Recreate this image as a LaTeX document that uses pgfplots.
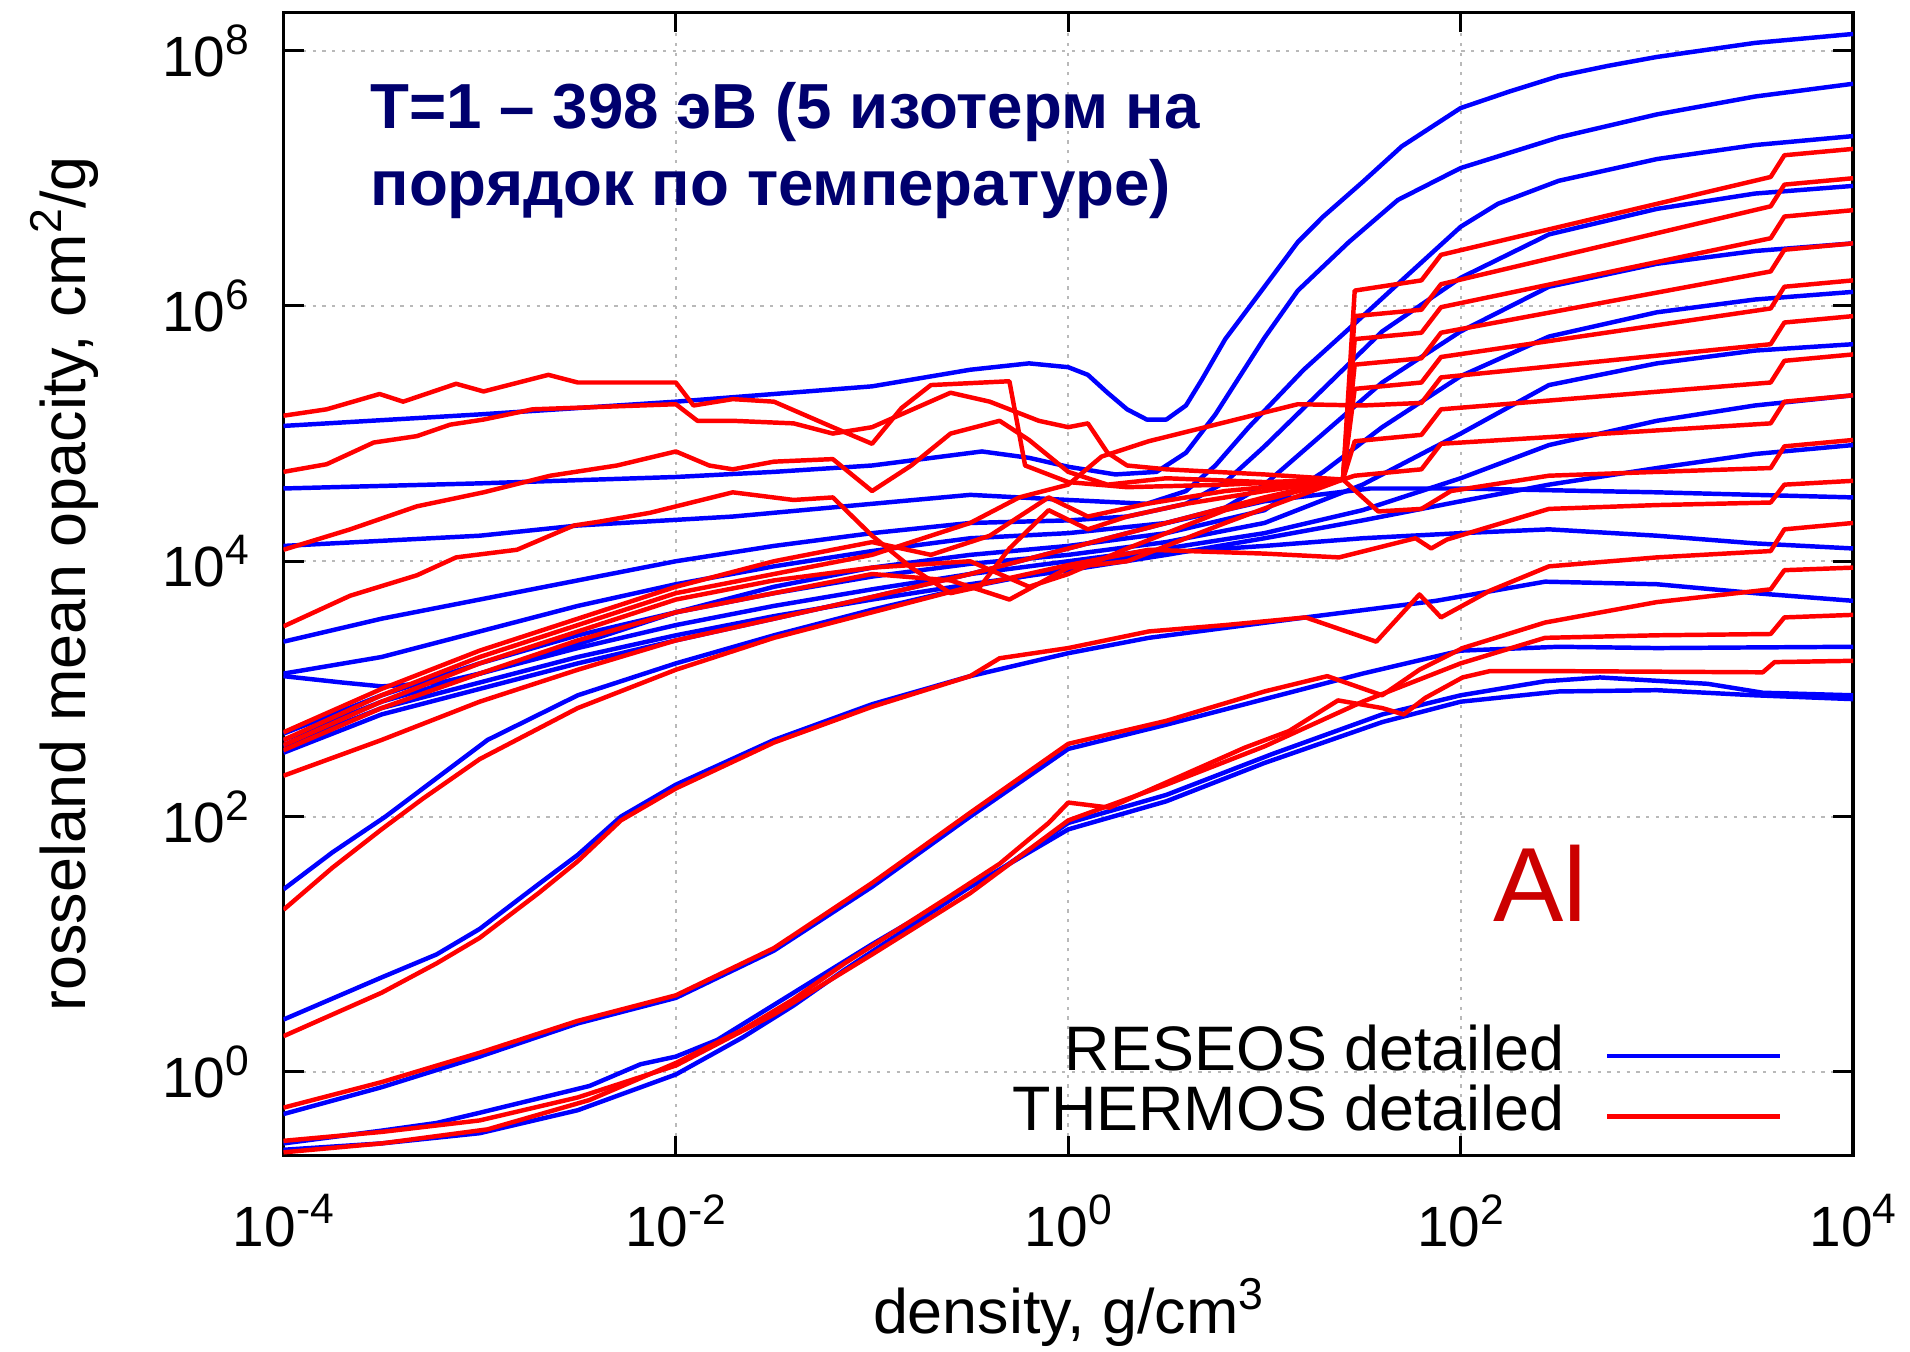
\documentclass[border=0pt]{standalone}
\usepackage{fontspec}
\setmainfont{Liberation Sans}
\usepackage{pgfplots}
\pgfplotsset{compat=1.18}
\definecolor{gblue}{RGB}{0,0,255}
\definecolor{gred}{RGB}{255,0,0}
\definecolor{navy}{RGB}{0,0,110}
\definecolor{alred}{RGB}{204,0,0}
\newcommand{\tl}[1]{10\raisebox{5.5pt}{\fontsize{10.5}{10.5}\selectfont #1}}
\pgfplotsset{
  bl/.style={color=gblue, line width=1.1pt, line join=round, no markers},
  rd/.style={color=gred, line width=1.1pt, line join=round, no markers},
}
\begin{document}
\begin{tikzpicture}
\begin{axis}[
  name=ax,
  scale only axis, width=387pt, height=282pt,
  xmode=log, ymode=log,
  xmin=1e-4, xmax=1e4, ymin=0.22, ymax=2e8,
  xtick={1e-4,1e-2,1,1e2,1e4},
  ytick={1,1e2,1e4,1e6,1e8},
  minor xtick={}, minor ytick={},
  xticklabels={\tl{-4},\tl{-2},\tl{0},\tl{2},\tl{4}},
  yticklabels={\tl{0},\tl{2},\tl{4},\tl{6},\tl{8}},
  tick label style={font=\fontsize{14}{16}\selectfont},
  xticklabel style={yshift=-6pt},
  yticklabel style={xshift=-5pt},
  grid=major,
  major grid style={draw=gray!55, line width=0.5pt, dash pattern=on 0.8pt off 1.6pt},
  tick align=inside,
  major tick length=5pt,
  tick style={black, line width=0.7pt},
  axis line style={line width=0.8pt},
  xlabel={density, g/cm\raisebox{6pt}{\fontsize{11}{11}\selectfont 3}},
  ylabel={rosseland mean opacity, cm\raisebox{6pt}{\fontsize{11}{11}\selectfont 2}/g},
  label style={font=\fontsize{15.5}{18}\selectfont},
  xlabel style={at={(axis description cs:0.5,-0.1553)}, anchor=base, inner sep=0pt},
  ylabel style={at={(axis description cs:-0.117,0.5)}, anchor=south, inner sep=0pt},
  legend entries={RESEOS detailed, THERMOS detailed},
  legend plot pos=right,
  legend cell align=right,
  legend style={at={(axis description cs:0.9555,0.0074)}, anchor=south east, draw=none, fill=none, inner sep=0pt,
    font=\fontsize{15.5}{15}\selectfont, row sep=0pt,
    nodes={inner sep=0pt, text height=11pt, text depth=3.9pt},
    /tikz/every odd column/.append style={column sep=10pt}},
  legend image code/.code={\draw[#1] (0pt,0pt) -- (42.6pt,0pt);},
]
% ---------------- RESEOS (blue) ----------------
\addplot[bl] table {
1e-4 1.148e5
1e-3 1.413e5
1e-2 1.778e5
0.1 2.344e5
0.3162 3.162e5
0.631 3.548e5
1 3.311e5
1.259 2.884e5
1.585 2.089e5
1.995 1.549e5
2.512 1.288e5
3.162 1.288e5
3.981 1.66e5
4.786 2.63e5
6.31 5.495e5
10 1.413e6
14.79 3.162e6
19.95 5.012e6
31.62 9.333e6
50.12 1.778e7
100 3.548e7
177.8 4.786e7
316.2 6.31e7
562.3 7.586e7
1000 8.913e7
3162 1.148e8
1e4 1.349e8
};
\addplot[bl, forget plot] table {
1e-4 3.715e4
1e-3 4.074e4
1e-2 4.571e4
0.03162 5.012e4
0.1 5.623e4
0.3631 7.244e4
0.631 6.457e4
1 5.495e4
1.738 4.786e4
2.818 5.012e4
3.981 7.079e4
5.623 1.413e5
10 5.623e5
14.79 1.318e6
26.92 3.162e6
47.86 6.761e6
100 1.202e7
316.2 2.089e7
1000 3.162e7
3162 4.365e7
1e4 5.495e7
};
\addplot[bl, forget plot] table {
1e-4 1.318e4
1e-3 1.585e4
3.162e-3 1.905e4
0.0195 2.239e4
0.1 2.818e4
0.3162 3.311e4
1 3.02e4
2.512 2.818e4
3.981 3.548e4
5.623 5.623e4
8.318 1.122e5
15.85 3.162e5
26.92 6.607e5
50.12 1.585e6
100 4.169e6
154.9 6.31e6
316.2 9.55e6
1000 1.413e7
3162 1.82e7
1e4 2.138e7
};
\addplot[bl, forget plot] table {
1e-4 2.344e3
3.162e-4 3.548e3
1e-3 5.012e3
3.162e-3 7.079e3
1e-2 1e4
0.03162 1.318e4
0.1 1.66e4
0.3162 1.995e4
1 2.089e4
1.995 2.239e4
3.981 2.818e4
6.31 4.169e4
10 7.943e4
19.95 2.239e5
39.81 6.31e5
100 1.66e6
281.8 3.631e6
1000 5.754e6
3162 7.586e6
1e4 8.71e6
};
\addplot[bl, forget plot] table {
1e-4 1.318e3
3.162e-4 1.778e3
1e-3 2.818e3
3.162e-3 4.467e3
1e-2 6.607e3
0.03162 9.12e3
0.1 1.202e4
0.3162 1.514e4
1 1.66e4
3.162 1.995e4
6.31 2.63e4
10 3.981e4
19.95 1e5
39.81 2.512e5
100 6.31e5
281.8 1.413e6
1000 2.138e6
3162 2.692e6
1e4 3.09e6
};
\addplot[bl, forget plot] table {
1e-4 1.259e3
1.995e-4 1.122e3
3.162e-4 1.047e3
6.31e-4 1.122e3
1e-3 1.318e3
3.162e-3 2.239e3
1e-2 3.981e3
0.03162 6.31e3
0.1 8.913e3
0.3162 1.122e4
1 1.318e4
3.162 1.66e4
10 2.512e4
19.95 5.012e4
39.81 1.122e5
100 2.818e5
281.8 5.754e5
1000 8.913e5
3162 1.122e6
1e4 1.288e6
};
\addplot[bl, forget plot] table {
1e-4 446.7
3.162e-4 891.3
1e-3 1.585e3
3.162e-3 2.63e3
1e-2 3.981e3
0.03162 5.623e3
0.1 7.586e3
0.3162 9.55e3
1 1.122e4
3.162 1.413e4
10 1.995e4
31.62 3.981e4
100 1e5
281.8 2.399e5
1000 3.548e5
3162 4.467e5
1e4 5.012e5
};
\addplot[bl, forget plot] table {
1e-4 398.1
3.162e-4 794.3
1e-3 1.318e3
3.162e-3 2.089e3
1e-2 3.162e3
0.03162 4.467e3
0.1 6.026e3
0.3162 7.943e3
1 1e4
3.162 1.259e4
10 1.66e4
31.62 2.512e4
100 4.467e4
281.8 8.128e4
1000 1.259e5
3162 1.66e5
1e4 1.995e5
};
\addplot[bl, forget plot] table {
1e-4 354.8
3.162e-4 707.9
1e-3 1.122e3
3.162e-3 1.778e3
1e-2 2.63e3
0.03162 3.715e3
0.1 5.012e3
0.3162 6.607e3
1 8.511e3
3.162 1.122e4
10 1.514e4
31.62 2.089e4
100 2.951e4
281.8 3.981e4
1000 5.37e4
3162 6.918e4
1e4 8.128e4
};
\addplot[bl, forget plot] table {
1e-4 316.2
3.162e-4 631
1e-3 1e3
3.162e-3 1.585e3
1e-2 2.399e3
0.03162 3.548e3
0.1 5.248e3
0.3162 7.943e3
1 1.259e4
3.162 1.995e4
10 2.951e4
34.67 3.715e4
100 3.715e4
1000 3.467e4
1e4 3.162e4
};
\addplot[bl, forget plot] table {
1e-4 26.92
1.778e-4 52.48
3.311e-4 100
1.096e-3 398.1
3.162e-3 891.3
1e-2 1.585e3
0.03162 2.63e3
0.1 4.169e3
0.3162 6.31e3
1 8.913e3
2.57 1.148e4
10 1.318e4
31.62 1.514e4
100 1.66e4
281.8 1.778e4
1000 1.585e4
3162 1.38e4
1e4 1.259e4
};
\addplot[bl, forget plot] table {
1e-4 2.57
3.162e-4 5.495
6.026e-4 8.318
1e-3 13.18
1.995e-3 29.51
3.162e-3 50.12
5.248e-3 100
1e-2 177.8
0.03162 398.1
0.1 758.6
0.3162 1.259e3
1 1.905e3
2.57 2.512e3
16.22 3.631e3
74.99 4.898e3
269.2 6.918e3
1000 6.607e3
3162 5.623e3
1e4 4.898e3
};
\addplot[bl, forget plot] table {
1e-4 0.4677
3.162e-4 0.7586
1e-3 1.318
3.162e-3 2.399
1e-2 3.802
0.03162 8.913
0.1 28.18
0.3162 100
1 338.8
3.162 524.8
10 831.8
31.62 1.318e3
100 1.995e3
316.2 2.138e3
1000 2.089e3
1e4 2.138e3
};
\addplot[bl, forget plot] table {
1e-4 0.2754
3.162e-4 0.3467
6.026e-4 0.3981
1e-3 0.4786
3.631e-3 0.7762
6.607e-3 1.148
1e-2 1.318
0.01622 1.778
0.03981 4.169
0.1 10
0.3162 28.18
0.4467 38.02
1 89.13
3.162 147.9
10.96 309
39.81 631
100 891.3
269.2 1.148e3
512.9 1.23e3
1820 1.096e3
3467 933.3
1e4 891.3
};
\addplot[bl, forget plot] table {
1e-4 0.2455
3.162e-4 0.2754
1e-3 0.3311
3.162e-3 0.5012
1e-2 0.955
0.02188 1.862
0.03981 3.311
0.07244 6.31
0.1334 11.75
0.3162 28.18
1 79.43
3.162 131.8
10 263
39.81 549.5
100 794.3
316.2 955
1000 977.2
3162 891.3
1e4 831.8
};
% ---------------- THERMOS (red) ----------------
\addplot[rd] table {
1e-4 1.38e5
1.66e-4 1.549e5
3.09e-4 2.042e5
4.074e-4 1.778e5
7.586e-4 2.455e5
1.047e-3 2.138e5
2.239e-3 2.884e5
3.162e-3 2.512e5
1e-2 2.512e5
0.0123 1.66e5
0.0195 1.862e5
0.03162 1.778e5
0.0631 1.122e5
0.1 8.318e4
0.1413 1.585e5
0.1995 2.399e5
0.5012 2.57e5
0.6026 5.623e4
1 4.169e4
1.995 3.802e4
6.31 3.981e4
25.12 4.365e4
28.84 1.318e6
63.1 1.585e6
79.43 2.512e6
3802 1.023e7
4467 1.514e7
1e4 1.698e7
};
\addplot[rd, forget plot] table {
1e-4 5.012e4
1.66e-4 5.754e4
2.884e-4 8.511e4
4.786e-4 9.55e4
7.079e-4 1.175e5
1.047e-3 1.288e5
1.862e-3 1.549e5
1e-2 1.698e5
0.01288 1.259e5
0.0195 1.259e5
0.03981 1.202e5
0.0631 1e5
0.1 1.122e5
0.2512 2.089e5
0.3981 1.778e5
0.7079 1.259e5
1 1.122e5
1.259 1.202e5
1.585 7.079e4
1.995 5.623e4
3.162 5.248e4
10 4.786e4
25.12 4.365e4
28.84 8.318e5
63.1 9.333e5
79.43 1.479e6
3802 6.026e6
4467 8.913e6
1e4 1e7
};
\addplot[rd, forget plot] table {
1e-4 1.23e4
2.188e-4 1.778e4
4.786e-4 2.692e4
1.047e-3 3.467e4
2.291e-3 4.677e4
5.012e-3 5.623e4
1e-2 7.244e4
0.01479 5.623e4
0.0195 5.248e4
0.03162 6.026e4
0.0631 6.31e4
0.1 3.548e4
0.1585 5.623e4
0.2512 1e5
0.4467 1.259e5
0.631 8.913e4
1 5.012e4
1.585 3.981e4
3.162 4.467e4
10 4.169e4
25.12 4.365e4
28.84 5.495e5
63.1 6.166e5
79.43 9.772e5
3802 3.388e6
4467 5.012e6
1e4 5.623e6
};
\addplot[rd, forget plot] table {
1e-4 3.09e3
2.188e-4 5.37e3
4.786e-4 7.762e3
7.586e-4 1.072e4
1.549e-3 1.23e4
3.02e-3 1.905e4
4.074e-3 2.042e4
7.413e-3 2.399e4
0.0195 3.467e4
0.03981 3.02e4
0.0631 3.162e4
0.1 1.585e4
0.1585 8.913e3
0.2512 5.623e3
0.3548 6.31e3
0.5012 1.259e4
0.7943 2.512e4
1.259 1.778e4
1.995 2.239e4
3.981 2.818e4
10 3.548e4
25.12 4.365e4
28.84 3.467e5
63.1 3.89e5
79.43 6.166e5
3802 1.862e6
4467 2.754e6
1e4 3.09e6
};
\addplot[rd, forget plot] table {
1e-4 457.1
3.162e-4 1e3
1e-3 1.995e3
3.162e-3 3.548e3
1e-2 6.31e3
0.03162 1e4
0.1 1.413e4
0.1995 1.122e4
0.3981 1.585e4
0.7943 3.162e4
1.259 2.239e4
2.512 2.818e4
6.31 3.548e4
25.12 4.365e4
28.84 2.239e5
63.1 2.512e5
79.43 3.981e5
3802 9.55e5
4467 1.413e6
1e4 1.585e6
};
\addplot[rd, forget plot] table {
1e-4 398.1
3.162e-4 891.3
1e-3 1.778e3
3.162e-3 3.162e3
1e-2 5.623e3
0.03162 7.943e3
0.1 1.122e4
0.3162 1.995e4
0.5623 3.162e4
1 3.981e4
1.479 6.607e4
2.57 8.71e4
14.79 1.698e5
31.62 1.66e5
63.1 1.738e5
79.43 2.754e5
3802 5.012e5
4467 7.413e5
1e4 8.318e5
};
\addplot[rd, forget plot] table {
1e-4 363.1
3.162e-4 794.3
1e-3 1.585e3
3.162e-3 2.818e3
1e-2 5.012e3
0.03162 7.079e3
0.1 8.913e3
0.3162 1e4
0.631 6.31e3
1 7.943e3
1.995 1.259e4
6.31 2.512e4
25.12 4.365e4
28.84 8.71e4
63.1 9.772e4
79.43 1.549e5
3802 2.512e5
4467 3.715e5
1e4 4.169e5
};
\addplot[rd, forget plot] table {
1e-4 331.1
3.162e-4 707.9
1e-3 1.318e3
3.162e-3 2.399e3
1e-2 3.981e3
0.03162 5.623e3
0.1 7.943e3
0.2512 7.079e3
0.5012 5.012e3
1 8.913e3
1.995 1e4
6.31 1.995e4
25.12 4.365e4
28.84 4.677e4
63.1 5.248e4
79.43 8.318e4
3802 1.202e5
4467 1.778e5
1e4 1.995e5
};
\addplot[rd, forget plot] table {
1e-4 208.9
3.162e-4 398.1
1e-3 794.3
3.162e-3 1.413e3
1e-2 2.399e3
0.03162 3.548e3
0.1 5.248e3
0.3162 7.943e3
1 1.259e4
3.162 1.995e4
10 3.162e4
25.12 4.365e4
38.02 2.455e4
63.1 2.57e4
89.13 3.548e4
281.8 4.677e4
1000 5.012e4
3802 5.37e4
4467 7.943e4
1e4 8.913e4
};
\addplot[rd, forget plot] table {
1e-4 18.62
1.778e-4 39.81
3.162e-4 79.43
5.129e-4 138
1e-3 281.8
3.162e-3 707.9
1e-2 1.413e3
0.03162 2.512e3
0.1 3.981e3
0.3162 6.31e3
1 9.333e3
2.57 1.23e4
10 1.148e4
23.99 1.072e4
58.88 1.514e4
70.79 1.259e4
85.11 1.479e4
281.8 2.57e4
1000 2.754e4
3802 2.884e4
4467 3.981e4
1e4 4.266e4
};
\addplot[rd, forget plot] table {
1e-4 1.905
3.162e-4 4.169
6.026e-4 7.079
1e-3 11.22
1.995e-3 25.12
3.162e-3 44.67
5.248e-3 93.33
1e-2 166
0.03162 380.2
0.1 724.4
0.3162 1.259e3
0.4467 1.738e3
1 2.089e3
2.57 2.818e3
6.31 3.162e3
16.22 3.631e3
37.15 2.344e3
61.66 5.495e3
79.43 3.631e3
141.3 5.888e3
281.8 9.12e3
1000 1.072e4
3802 1.202e4
4467 1.778e4
1e4 1.995e4
};
\addplot[rd, forget plot] table {
1e-4 0.5248
3.162e-4 0.8318
1e-3 1.413
3.162e-3 2.512
1e-2 3.981
0.03162 9.333
0.1 30.2
0.3162 107.2
1 371.5
3.162 562.3
10 955
20.89 1.259e3
39.81 891.3
61.66 1.413e3
102.3 2.089e3
269.2 3.311e3
1000 4.786e3
3802 6.026e3
4467 8.511e3
1e4 8.913e3
};
\addplot[rd, forget plot] table {
1e-4 0.2884
3.162e-4 0.3388
1e-3 0.4169
3.162e-3 0.631
1e-2 1.122
0.03162 2.818
0.1 8.318
0.3162 25.12
1 93.33
3.162 177.8
10 354.8
31.62 794.3
100 1.585e3
269.2 2.512e3
1000 2.63e3
3802 2.692e3
4467 3.631e3
1e4 3.802e3
};
\addplot[rd, forget plot] table {
1e-4 0.2344
3.162e-4 0.2754
1.096e-3 0.3548
3.631e-3 0.6026
1e-2 1.175
0.02188 2.138
0.03981 3.715
0.07244 7.079
0.1334 12.88
0.2455 23.44
0.4467 42.66
0.7943 89.13
1 128.8
1.622 117.5
4.786 245.5
7.943 346.7
13.34 467.7
23.71 812.8
39.81 707.9
51.29 631
66.07 851.1
102.3 1.23e3
141.3 1.38e3
269.2 1.38e3
3467 1.349e3
3981 1.622e3
1e4 1.66e3
};
\node[anchor=base west, inner sep=0pt, text=navy, font=\fontsize{15.7}{18}\selectfont\bfseries] at (axis description cs:0.055,0.898) {T=1 – 398 эВ (5 изотерм на};
\node[anchor=base west, inner sep=0pt, text=navy, font=\fontsize{15.7}{18}\selectfont\bfseries] at (axis description cs:0.055,0.831) {порядок по температуре)};
\node[anchor=base west, inner sep=0pt, text=alred, font=\fontsize{26}{30}\selectfont] at (axis cs:145,15.1) {Al};
\end{axis}
\path (ax.south west) ++(-69.9pt,-48.3pt) coordinate (bl);
\path (ax.north east) ++(13.5pt,3pt) coordinate (tr);
\path[draw=none] (bl) rectangle (tr);
\end{tikzpicture}
\end{document}
